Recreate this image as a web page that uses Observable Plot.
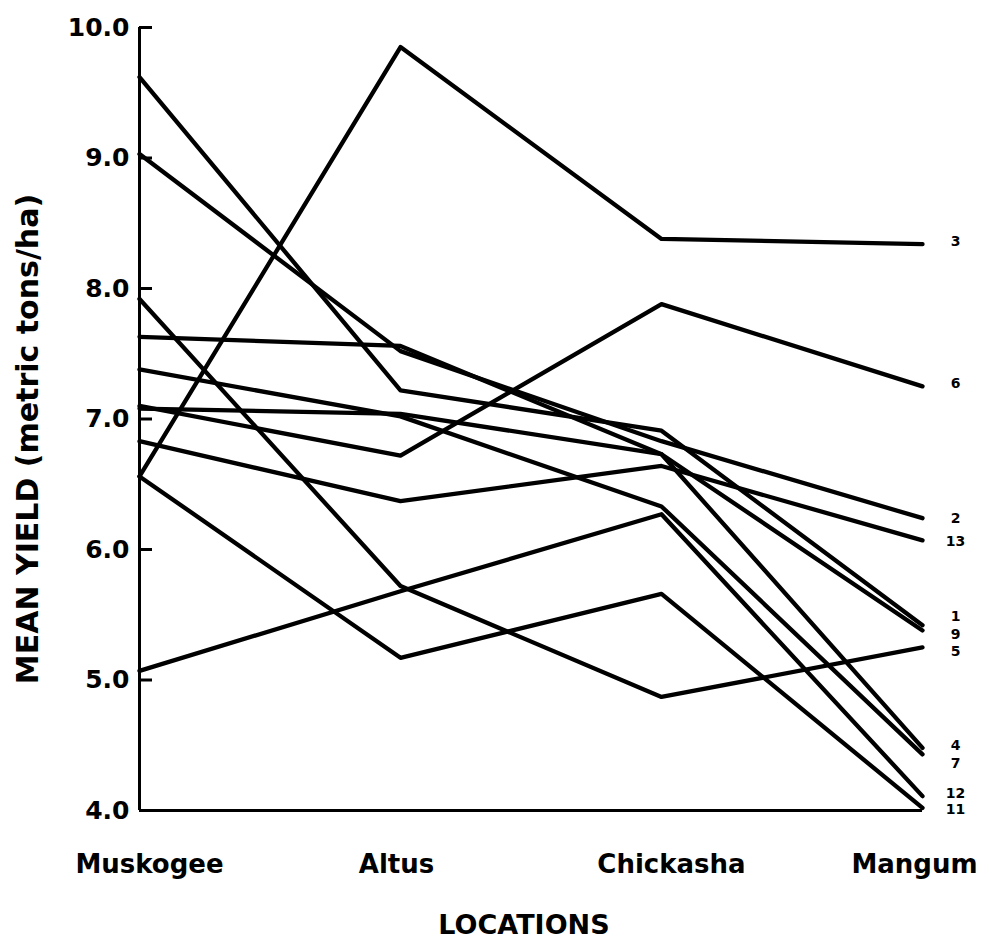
<!DOCTYPE html>
<html><head><meta charset="utf-8">
<script src="https://cdn.jsdelivr.net/npm/d3@7"></script>
<script src="https://cdn.jsdelivr.net/npm/@observablehq/plot@0.6"></script>
<style>
html,body{margin:0;padding:0;background:#fff;}
svg text{font-family:"DejaVu Sans",sans-serif;font-weight:bold;fill:#000;}
</style></head><body><div id="chart"></div>
<script>
const locations = ["Muskogee", "Altus", "Chickasha", "Mangum"];
const entries   = ["3", "6", "2", "13", "1", "9", "5", "4", "7", "12", "11"];
const muskogee  = [6.56, 7.10, 9.03, 6.83, 9.62, 7.63, 7.92, 7.08, 7.38, 5.07, 6.56];
const altus     = [9.85, 6.72, 7.52, 6.37, 7.22, 7.56, 5.72, 7.04, 7.02, 5.68, 5.17];
const chickasha = [8.38, 7.88, 6.83, 6.64, 6.91, 6.73, 4.87, 6.73, 6.33, 6.27, 5.66];
const mangum    = [8.34, 7.25, 6.24, 6.07, 5.42, 5.38, 5.25, 4.48, 4.43, 4.11, 4.02];
const labelAt   = [8.36, 7.27, 6.24, 6.06, 5.49, 5.35, 5.22, 4.50, 4.36, 4.13, 4.01];
const yTicks    = [4, 5, 6, 7, 8, 9, 10];
const yTitle = "MEAN YIELD (metric tons/ha)";
const xTitle = "LOCATIONS";

const cols = [muskogee, altus, chickasha, mangum];
const rows = entries.flatMap((id, i) => locations.map((loc, j) => ({id, location: loc, value: cols[j][i]})));
const labels = entries.map((id, i) => ({id, location: locations[3], value: labelAt[i]}));

const W = 981, H = 941, ML = 139, MR = 59;
const xAxisOpts = {tickSize: 0, tickPadding: 44, fontSize: 26, label: null};
const chart = Plot.plot({
  width: W, height: H,
  marginTop: 27, marginBottom: 131, marginLeft: ML, marginRight: MR,
  style: {fontFamily: "DejaVu Sans", background: "#fff"},
  x: {type: "point", domain: locations, padding: 0},
  y: {domain: [4, 10]},
  marks: [
    Plot.ruleX([locations[0]], {stroke: "black", strokeWidth: 3}),
    Plot.ruleY([4], {stroke: "black", strokeWidth: 3}),
    Plot.ruleY(yTicks.slice(1), {stroke: "black", strokeWidth: 3, insetRight: W - ML - MR - 13}),
    Plot.axisY({ticks: yTicks, tickSize: 0, tickPadding: 10, tickFormat: d => d.toFixed(1), fontSize: 25, label: null}),
    Plot.axisX([locations[0], locations[2]], {...xAxisOpts, dx: 10}),
    Plot.axisX([locations[1]], {...xAxisOpts, dx: -4}),
    Plot.axisX([locations[3]], {...xAxisOpts, dx: -8}),
    Plot.text([yTitle], {frameAnchor: "left", textAnchor: "middle", rotate: -90, dx: -111, dy: 20, fontSize: 30}),
    Plot.text([xTitle], {frameAnchor: "bottom", dy: 123, dx: -7, fontSize: 27}),
    Plot.line(rows, {x: "location", y: "value", z: "id", stroke: "black", strokeWidth: 4.3, strokeLinejoin: "round", strokeLinecap: "round"}),
    Plot.text(labels, {x: "location", y: "value", text: "id", dx: 33, fontSize: 14})
  ]
});
document.getElementById("chart").appendChild(chart);
</script></body></html>
